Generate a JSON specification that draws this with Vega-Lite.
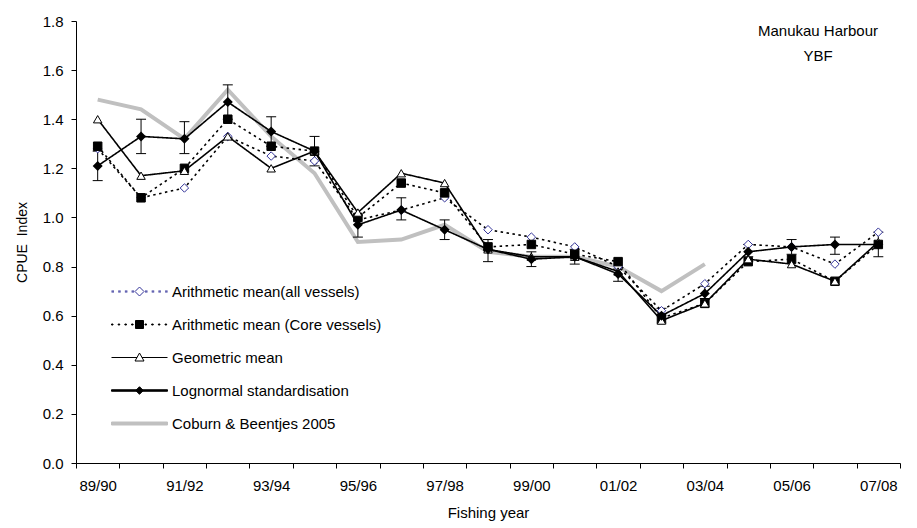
{
  "$schema": "https://vega.github.io/schema/vega-lite/v6.json",
  "width": 824,
  "height": 442,
  "autosize": {"type": "none"},
  "padding": {"left": 76, "top": 21, "right": 17, "bottom": 65},
  "background": "white",
  "config": {
    "font": "Liberation Sans",
    "view": {"stroke": null},
    "axis": {
      "labelFont": "Liberation Sans", "labelFontSize": 15, "labelColor": "#000000",
      "titleFont": "Liberation Sans", "titleFontSize": 15, "titleFontWeight": "normal", "titleColor": "#000000",
      "domainColor": "#000000", "tickColor": "#000000", "tickSize": 5, "grid": false
    }
  },
  "title": {
    "text": ["Manukau Harbour", "YBF"],
    "anchor": "end", "frame": "group", "orient": "top", "align": "center", "baseline": "top",
    "dx": -82, "dy": 50, "offset": 0,
    "font": "Liberation Sans", "fontSize": 15, "fontWeight": "normal", "color": "#000000", "lineHeight": 25
  },
  "datasets": {
    "cpue": [
      {"year": "89/90", "series": "Arithmetic mean(all vessels)", "value": 1.28},
      {"year": "90/91", "series": "Arithmetic mean(all vessels)", "value": 1.08},
      {"year": "91/92", "series": "Arithmetic mean(all vessels)", "value": 1.12},
      {"year": "92/93", "series": "Arithmetic mean(all vessels)", "value": 1.33},
      {"year": "93/94", "series": "Arithmetic mean(all vessels)", "value": 1.25},
      {"year": "94/95", "series": "Arithmetic mean(all vessels)", "value": 1.23},
      {"year": "95/96", "series": "Arithmetic mean(all vessels)", "value": 0.99},
      {"year": "96/97", "series": "Arithmetic mean(all vessels)", "value": 1.03},
      {"year": "97/98", "series": "Arithmetic mean(all vessels)", "value": 1.08},
      {"year": "98/99", "series": "Arithmetic mean(all vessels)", "value": 0.95},
      {"year": "99/00", "series": "Arithmetic mean(all vessels)", "value": 0.92},
      {"year": "00/01", "series": "Arithmetic mean(all vessels)", "value": 0.88},
      {"year": "01/02", "series": "Arithmetic mean(all vessels)", "value": 0.80},
      {"year": "02/03", "series": "Arithmetic mean(all vessels)", "value": 0.62},
      {"year": "03/04", "series": "Arithmetic mean(all vessels)", "value": 0.73},
      {"year": "04/05", "series": "Arithmetic mean(all vessels)", "value": 0.89},
      {"year": "05/06", "series": "Arithmetic mean(all vessels)", "value": 0.88},
      {"year": "06/07", "series": "Arithmetic mean(all vessels)", "value": 0.81},
      {"year": "07/08", "series": "Arithmetic mean(all vessels)", "value": 0.94},
      {"year": "89/90", "series": "Arithmetic mean (Core vessels)", "value": 1.29},
      {"year": "90/91", "series": "Arithmetic mean (Core vessels)", "value": 1.08},
      {"year": "91/92", "series": "Arithmetic mean (Core vessels)", "value": 1.20},
      {"year": "92/93", "series": "Arithmetic mean (Core vessels)", "value": 1.40},
      {"year": "93/94", "series": "Arithmetic mean (Core vessels)", "value": 1.29},
      {"year": "94/95", "series": "Arithmetic mean (Core vessels)", "value": 1.27},
      {"year": "95/96", "series": "Arithmetic mean (Core vessels)", "value": 1.00},
      {"year": "96/97", "series": "Arithmetic mean (Core vessels)", "value": 1.14},
      {"year": "97/98", "series": "Arithmetic mean (Core vessels)", "value": 1.10},
      {"year": "98/99", "series": "Arithmetic mean (Core vessels)", "value": 0.88},
      {"year": "99/00", "series": "Arithmetic mean (Core vessels)", "value": 0.89},
      {"year": "00/01", "series": "Arithmetic mean (Core vessels)", "value": 0.85},
      {"year": "01/02", "series": "Arithmetic mean (Core vessels)", "value": 0.82},
      {"year": "02/03", "series": "Arithmetic mean (Core vessels)", "value": 0.59},
      {"year": "03/04", "series": "Arithmetic mean (Core vessels)", "value": 0.65},
      {"year": "04/05", "series": "Arithmetic mean (Core vessels)", "value": 0.82},
      {"year": "05/06", "series": "Arithmetic mean (Core vessels)", "value": 0.83},
      {"year": "06/07", "series": "Arithmetic mean (Core vessels)", "value": 0.74},
      {"year": "07/08", "series": "Arithmetic mean (Core vessels)", "value": 0.89},
      {"year": "89/90", "series": "Geometric mean", "value": 1.40},
      {"year": "90/91", "series": "Geometric mean", "value": 1.17},
      {"year": "91/92", "series": "Geometric mean", "value": 1.19},
      {"year": "92/93", "series": "Geometric mean", "value": 1.33},
      {"year": "93/94", "series": "Geometric mean", "value": 1.20},
      {"year": "94/95", "series": "Geometric mean", "value": 1.27},
      {"year": "95/96", "series": "Geometric mean", "value": 1.02},
      {"year": "96/97", "series": "Geometric mean", "value": 1.18},
      {"year": "97/98", "series": "Geometric mean", "value": 1.14},
      {"year": "98/99", "series": "Geometric mean", "value": 0.87},
      {"year": "99/00", "series": "Geometric mean", "value": 0.84},
      {"year": "00/01", "series": "Geometric mean", "value": 0.84},
      {"year": "01/02", "series": "Geometric mean", "value": 0.78},
      {"year": "02/03", "series": "Geometric mean", "value": 0.58},
      {"year": "03/04", "series": "Geometric mean", "value": 0.65},
      {"year": "04/05", "series": "Geometric mean", "value": 0.83},
      {"year": "05/06", "series": "Geometric mean", "value": 0.81},
      {"year": "06/07", "series": "Geometric mean", "value": 0.74},
      {"year": "07/08", "series": "Geometric mean", "value": 0.90},
      {"year": "89/90", "series": "Lognormal standardisation", "value": 1.21},
      {"year": "90/91", "series": "Lognormal standardisation", "value": 1.33},
      {"year": "91/92", "series": "Lognormal standardisation", "value": 1.32},
      {"year": "92/93", "series": "Lognormal standardisation", "value": 1.47},
      {"year": "93/94", "series": "Lognormal standardisation", "value": 1.35},
      {"year": "94/95", "series": "Lognormal standardisation", "value": 1.27},
      {"year": "95/96", "series": "Lognormal standardisation", "value": 0.97},
      {"year": "96/97", "series": "Lognormal standardisation", "value": 1.03},
      {"year": "97/98", "series": "Lognormal standardisation", "value": 0.95},
      {"year": "98/99", "series": "Lognormal standardisation", "value": 0.87},
      {"year": "99/00", "series": "Lognormal standardisation", "value": 0.83},
      {"year": "00/01", "series": "Lognormal standardisation", "value": 0.84},
      {"year": "01/02", "series": "Lognormal standardisation", "value": 0.77},
      {"year": "02/03", "series": "Lognormal standardisation", "value": 0.60},
      {"year": "03/04", "series": "Lognormal standardisation", "value": 0.69},
      {"year": "04/05", "series": "Lognormal standardisation", "value": 0.86},
      {"year": "05/06", "series": "Lognormal standardisation", "value": 0.88},
      {"year": "06/07", "series": "Lognormal standardisation", "value": 0.89},
      {"year": "07/08", "series": "Lognormal standardisation", "value": 0.89},
      {"year": "89/90", "series": "Coburn & Beentjes 2005", "value": 1.48},
      {"year": "90/91", "series": "Coburn & Beentjes 2005", "value": 1.44},
      {"year": "91/92", "series": "Coburn & Beentjes 2005", "value": 1.32},
      {"year": "92/93", "series": "Coburn & Beentjes 2005", "value": 1.52},
      {"year": "93/94", "series": "Coburn & Beentjes 2005", "value": 1.33},
      {"year": "94/95", "series": "Coburn & Beentjes 2005", "value": 1.18},
      {"year": "95/96", "series": "Coburn & Beentjes 2005", "value": 0.90},
      {"year": "96/97", "series": "Coburn & Beentjes 2005", "value": 0.91},
      {"year": "97/98", "series": "Coburn & Beentjes 2005", "value": 0.97},
      {"year": "98/99", "series": "Coburn & Beentjes 2005", "value": 0.86},
      {"year": "99/00", "series": "Coburn & Beentjes 2005", "value": 0.84},
      {"year": "00/01", "series": "Coburn & Beentjes 2005", "value": 0.84},
      {"year": "01/02", "series": "Coburn & Beentjes 2005", "value": 0.80},
      {"year": "02/03", "series": "Coburn & Beentjes 2005", "value": 0.70},
      {"year": "03/04", "series": "Coburn & Beentjes 2005", "value": 0.81}
    ],
    "ci": [
      {"year": "89/90", "lo": 1.15, "hi": 1.27},
      {"year": "90/91", "lo": 1.26, "hi": 1.40},
      {"year": "91/92", "lo": 1.26, "hi": 1.39},
      {"year": "92/93", "lo": 1.40, "hi": 1.54},
      {"year": "93/94", "lo": 1.29, "hi": 1.41},
      {"year": "94/95", "lo": 1.21, "hi": 1.33},
      {"year": "95/96", "lo": 0.92, "hi": 1.01},
      {"year": "96/97", "lo": 0.99, "hi": 1.08},
      {"year": "97/98", "lo": 0.91, "hi": 0.99},
      {"year": "98/99", "lo": 0.82, "hi": 0.91},
      {"year": "99/00", "lo": 0.80, "hi": 0.86},
      {"year": "00/01", "lo": 0.81, "hi": 0.87},
      {"year": "01/02", "lo": 0.74, "hi": 0.79},
      {"year": "02/03", "lo": 0.57, "hi": 0.63},
      {"year": "03/04", "lo": 0.67, "hi": 0.72},
      {"year": "04/05", "lo": 0.84, "hi": 0.89},
      {"year": "05/06", "lo": 0.85, "hi": 0.91},
      {"year": "06/07", "lo": 0.85, "hi": 0.92},
      {"year": "07/08", "lo": 0.84, "hi": 0.94}
    ]
  },
  "encoding": {
    "x": {
      "field": "year", "type": "ordinal",
      "scale": {"type": "band", "paddingInner": 0, "paddingOuter": 0,
        "domain": ["89/90","90/91","91/92","92/93","93/94","94/95","95/96","96/97","97/98","98/99","99/00","00/01","01/02","02/03","03/04","04/05","05/06","06/07","07/08"]},
      "axis": {
        "title": "Fishing year", "tickBand": "extent", "labelAngle": 0, "labelOverlap": false, "labelFlush": false,
        "labelPadding": 10, "titlePadding": 12,
        "labelExpr": "indexof(['89/90','91/92','93/94','95/96','97/98','99/00','01/02','03/04','05/06','07/08'], datum.value) >= 0 ? datum.value : ''"
      }
    }
  },
  "layer": [
    {
      "data": {"name": "cpue"},
      "transform": [{"filter": "datum.series === 'Coburn & Beentjes 2005'"}],
      "mark": {"type": "line", "color": "#c0c0c0", "strokeWidth": 4},
      "encoding": {
        "y": {"field": "value", "type": "quantitative", "title": "CPUE\u00a0\u00a0Index",
          "scale": {"domain": [0, 1.8], "nice": false, "zero": true},
          "axis": {"values": [0, 0.2, 0.4, 0.6, 0.8, 1.0, 1.2, 1.4, 1.6, 1.8], "format": ".1f", "labelPadding": 8, "titlePadding": 13, "titleFontSize": 14}}
      }
    },
    {
      "data": {"name": "cpue"},
      "transform": [{"filter": "datum.series !== 'Coburn & Beentjes 2005'"}],
      "mark": {"type": "line"},
      "encoding": {
        "y": {"field": "value", "type": "quantitative", "title": "CPUE\u00a0\u00a0Index"},
        "stroke": {"field": "series", "type": "nominal", "legend": null,
          "scale": {"domain": ["Arithmetic mean(all vessels)", "Arithmetic mean (Core vessels)", "Geometric mean", "Lognormal standardisation"],
            "range": ["#000000", "#000000", "#000000", "#000000"]}},
        "strokeDash": {"field": "series", "type": "nominal", "legend": null,
          "scale": {"domain": ["Arithmetic mean(all vessels)", "Arithmetic mean (Core vessels)", "Geometric mean", "Lognormal standardisation"],
            "range": [[2.5, 3.5], [2.5, 3.5], [1, 0], [1, 0]]}},
        "strokeWidth": {"field": "series", "type": "nominal", "legend": null,
          "scale": {"domain": ["Arithmetic mean(all vessels)", "Arithmetic mean (Core vessels)", "Geometric mean", "Lognormal standardisation"],
            "range": [1.6, 1.6, 1, 2.5]}}
      }
    },
    {
      "data": {"name": "ci"},
      "mark": {"type": "rule", "color": "#000000", "strokeWidth": 1},
      "encoding": {
        "y": {"field": "lo", "type": "quantitative", "title": "CPUE\u00a0\u00a0Index"},
        "y2": {"field": "hi"}
      }
    },
    {
      "data": {"name": "ci"},
      "mark": {"type": "tick", "color": "#000000", "size": 10, "thickness": 1, "orient": "horizontal", "opacity": 1},
      "encoding": {
        "y": {"field": "lo", "type": "quantitative", "title": "CPUE\u00a0\u00a0Index"}
      }
    },
    {
      "data": {"name": "ci"},
      "mark": {"type": "tick", "color": "#000000", "size": 10, "thickness": 1, "orient": "horizontal", "opacity": 1},
      "encoding": {
        "y": {"field": "hi", "type": "quantitative", "title": "CPUE\u00a0\u00a0Index"}
      }
    },
    {
      "data": {"name": "cpue"},
      "transform": [{"filter": "datum.series !== 'Coburn & Beentjes 2005' && datum.series !== 'Lognormal standardisation'"}],
      "mark": {"type": "point", "filled": false, "opacity": 1, "strokeWidth": 1, "size": 72},
      "encoding": {
        "y": {"field": "value", "type": "quantitative", "title": "CPUE\u00a0\u00a0Index"},
        "shape": {"field": "series", "type": "nominal", "legend": null,
          "scale": {"domain": ["Arithmetic mean(all vessels)", "Arithmetic mean (Core vessels)", "Geometric mean"],
            "range": ["diamond", "square", "triangle-up"]}},
        "color": {"field": "series", "type": "nominal", "legend": null,
          "scale": {"domain": ["Arithmetic mean(all vessels)", "Arithmetic mean (Core vessels)", "Geometric mean"],
            "range": ["#333399", "#000000", "#000000"]}},
        "fill": {"field": "series", "type": "nominal",
          "scale": {"domain": ["Arithmetic mean(all vessels)", "Arithmetic mean (Core vessels)", "Geometric mean", "Lognormal standardisation", "Coburn & Beentjes 2005"],
            "range": ["#ffffff", "#000000", "#ffffff", "#000000", "#c0c0c0"]},
          "legend": {
            "title": null, "orient": "none", "legendX": 53, "legendY": 260, "padding": 0,
            "symbolSize": 400, "symbolStrokeWidth": 1, "labelOffset": 22, "rowPadding": 14, "labelLimit": 0,
            "labelFont": "Liberation Sans", "labelFontSize": 15, "labelColor": "#000000",
            "encoding": {
              "symbols": {
                "shape": {"value": {"expr": "['M-2.8,-0.05H-2.55M-2.8,0.05H-2.55M-2.13,-0.05H-1.88M-2.13,0.05H-1.88M-1.46,-0.05H-1.21M-1.46,0.05H-1.21M-0.79,-0.05H-0.54M-0.79,0.05H-0.54M0.55,-0.05H0.8M0.55,0.05H0.8M1.22,-0.05H1.47M1.22,0.05H1.47M1.89,-0.05H2.14M1.89,0.05H2.14M2.56,-0.05H2.81M2.56,0.05H2.81M0,-0.45L0.45,0L0,0.45L-0.45,0Z','M-2.8,-0.05H-2.65V0.05H-2.8ZM-2.13,-0.05H-1.98V0.05H-2.13ZM-1.46,-0.05H-1.31V0.05H-1.46ZM-0.79,-0.05H-0.64V0.05H-0.79ZM0.55,-0.05H0.7V0.05H0.55ZM1.22,-0.05H1.37V0.05H1.22ZM1.89,-0.05H2.04V0.05H1.89ZM2.56,-0.05H2.71V0.05H2.56ZM-0.4,-0.4H0.4V0.4H-0.4Z','M-2.8,0H-0.25M0.25,0H2.8M0,-0.45L0.45,0.35L-0.45,0.35Z','M-2.8,-0.075H2.8V0.075H-2.8ZM0,-0.38L0.38,0L0,0.38L-0.38,0Z','M-2.8,-0.15H2.8V0.15H-2.8Z'][indexof(['Arithmetic mean(all vessels)','Arithmetic mean (Core vessels)','Geometric mean','Lognormal standardisation','Coburn & Beentjes 2005'], datum.value)]"}},
                "stroke": {"value": {"expr": "['#333399','#000000','#000000','#000000','#c0c0c0'][indexof(['Arithmetic mean(all vessels)','Arithmetic mean (Core vessels)','Geometric mean','Lognormal standardisation','Coburn & Beentjes 2005'], datum.value)]"}},
                "fill": {"value": {"expr": "['#ffffff','#000000','#ffffff','#000000','#c0c0c0'][indexof(['Arithmetic mean(all vessels)','Arithmetic mean (Core vessels)','Geometric mean','Lognormal standardisation','Coburn & Beentjes 2005'], datum.value)]"}},
                "strokeWidth": {"value": 1},
                "opacity": {"value": 1},
                "fillOpacity": {"value": 1},
                "strokeOpacity": {"value": 1}
              }
            }
          }
        }
      }
    },
    {
      "data": {"name": "cpue"},
      "transform": [{"filter": "datum.series === 'Lognormal standardisation'"}],
      "mark": {"type": "point", "shape": "diamond", "filled": true, "color": "#000000", "opacity": 1, "size": 100},
      "encoding": {
        "y": {"field": "value", "type": "quantitative", "title": "CPUE\u00a0\u00a0Index"}
      }
    }
  ]
}
